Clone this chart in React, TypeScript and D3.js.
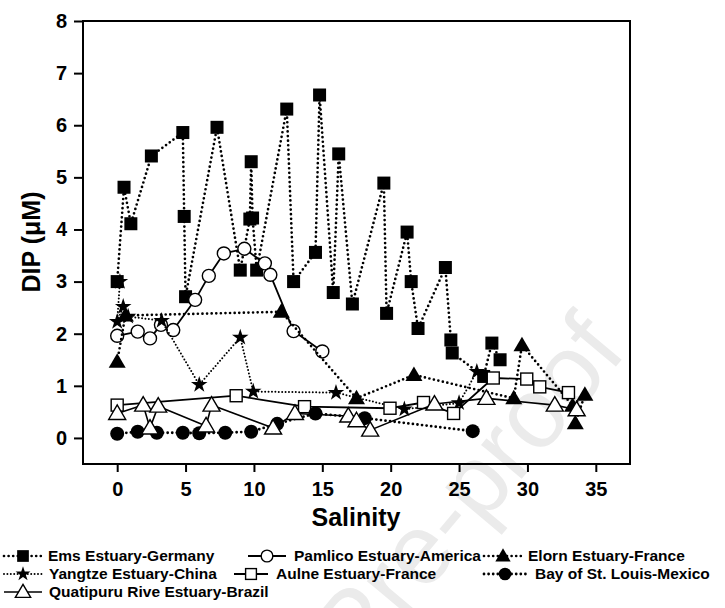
import React, { useEffect, useRef } from 'react';
import * as d3 from 'd3';

const W = 725, H = 608;
const FONT = '"Liberation Sans", Arial, Helvetica, sans-serif';

// salinity / DIP pairs, listed in the order the lines join them
const emsSal = [0, 0.5, 1, 2.5, 4.8, 4.9, 5, 7.3, 9, 9.7, 9.8, 9.9, 10.2, 12.4, 12.9, 14.5, 14.8, 15.8, 16.2, 17.2, 19.5, 19.7, 21.2, 21.5, 22, 24, 24.4, 24.5, 26.8, 27.4, 28];
const emsDip = [3.0, 4.81, 4.11, 5.41, 5.86, 4.25, 2.71, 5.96, 3.22, 4.2, 5.3, 4.22, 3.22, 6.31, 3.0, 3.56, 6.58, 2.79, 5.45, 2.57, 4.89, 2.39, 3.95, 3.0, 2.1, 3.27, 1.88, 1.63, 1.18, 1.82, 1.5];

const pamSal = [0, 1.5, 2.4, 3.2, 4.1, 5.7, 6.7, 7.8, 9.3, 10.8, 11.2, 12.9, 15.0];
const pamDip = [1.96, 2.04, 1.91, 2.17, 2.07, 2.65, 3.11, 3.54, 3.63, 3.35, 3.13, 2.05, 1.66];

const elornSal = [0, 0.6, 12.0, 17.5, 21.7, 29.0, 29.6, 33.3, 34.2, 33.5];
const elornDip = [1.46, 2.35, 2.42, 0.76, 1.21, 0.76, 1.78, 0.62, 0.83, 0.28];

const yangSal = [0.2, 0, 0.44, 0.8, 3.25, 6.0, 9.0, 9.95, 16.0, 21.0, 25.0, 26.3];
const yangDip = [3.0, 2.23, 2.52, 2.33, 2.25, 1.02, 1.93, 0.89, 0.87, 0.55, 0.67, 1.27];

const aulneSal = [0, 8.7, 13.7, 19.95, 22.4, 24.6, 27.5, 29.95, 30.9, 33.0];
const aulneDip = [0.63, 0.81, 0.6, 0.57, 0.68, 0.47, 1.15, 1.13, 0.98, 0.87];

const baySal = [0, 1.5, 2.9, 4.8, 6.0, 7.9, 9.8, 11.7, 14.5, 18.1, 26.0];
const bayDip = [0.08, 0.12, 0.1, 0.1, 0.09, 0.1, 0.12, 0.27, 0.47, 0.38, 0.13];

const quaSal = [0, 1.9, 2.4, 3.0, 6.5, 6.9, 11.4, 13.0, 16.9, 17.5, 18.5, 23.2, 27.0, 32.0, 33.6];
const quaDip = [0.47, 0.63, 0.19, 0.61, 0.23, 0.63, 0.19, 0.47, 0.42, 0.33, 0.15, 0.65, 0.76, 0.63, 0.54];

const xTicks = [0, 5, 10, 15, 20, 25, 30, 35];
const yTicks = [0, 1, 2, 3, 4, 5, 6, 7, 8];

type Style = { marker: string; dash: string | null; width: number };

const series: { name: string; sal: number[]; dip: number[]; style: Style }[] = [
  { name: 'Ems Estuary-Germany', sal: emsSal, dip: emsDip, style: { marker: 'square', dash: '0 4.6', width: 2.7 } },
  { name: 'Pamlico Estuary-America', sal: pamSal, dip: pamDip, style: { marker: 'circleOpen', dash: null, width: 1.8 } },
  { name: 'Elorn Estuary-France', sal: elornSal, dip: elornDip, style: { marker: 'triangle', dash: '0 4.6', width: 2.7 } },
  { name: 'Yangtze Estuary-China', sal: yangSal, dip: yangDip, style: { marker: 'star', dash: '0 3.4', width: 2 } },
  { name: 'Aulne Estuary-France', sal: aulneSal, dip: aulneDip, style: { marker: 'squareOpen', dash: null, width: 1.8 } },
  { name: 'Bay of St. Louis-Mexico', sal: baySal, dip: bayDip, style: { marker: 'circle', dash: '0 4.6', width: 2.8 } },
  { name: 'Quatipuru Rive Estuary-Brazil', sal: quaSal, dip: quaDip, style: { marker: 'triangleOpen', dash: null, width: 1.6 } },
];

// legend slots: [row, symbol left, symbol right, text x]
const legendSlots = [
  [0, 4, 42, 48], [0, 248, 286, 294], [0, 484, 522, 528],
  [1, 4, 42, 49], [1, 234, 268, 276], [1, 484, 526, 535],
  [2, 4, 42, 49],
];
const legendRowY = [561, 579, 597];

function drawMarker(g: any, kind: string, cx: number, cy: number, k = 1) {
  const open = kind.endsWith('Open');
  const fill = open ? '#fff' : '#000';
  const stroke = '#000';
  if (kind.startsWith('square')) {
    const s = (open ? 12 : 13) * k;
    g.append('rect').attr('x', cx - s / 2).attr('y', cy - s / 2).attr('width', s).attr('height', s)
      .attr('fill', fill).attr('stroke', stroke).attr('stroke-width', open ? 1.4 : 0);
  } else if (kind.startsWith('circle')) {
    g.append('circle').attr('cx', cx).attr('cy', cy).attr('r', (open ? 6.5 : 7) * k)
      .attr('fill', fill).attr('stroke', stroke).attr('stroke-width', open ? 1.4 : 0);
  } else if (kind.startsWith('triangle')) {
    const a = 8.5 * k, b = 6 * k;
    g.append('path').attr('d', `M${cx},${cy - a}L${cx + a},${cy + b}L${cx - a},${cy + b}Z`)
      .attr('fill', fill).attr('stroke', stroke).attr('stroke-width', open ? 1.4 : 0);
  } else {
    g.append('path').attr('d', d3.symbol(d3.symbolStar, 85 * k * k)())
      .attr('transform', `translate(${cx},${cy})`).attr('fill', '#000');
  }
}

export default function App() {
  const ref = useRef<SVGSVGElement>(null);

  useEffect(() => {
    const svg = d3.select(ref.current);
    svg.selectAll('*').remove();

    const x = d3.scaleLinear().domain([-2.5, 37.5]).range([83, 630]);
    const y = d3.scaleLinear().domain([-0.5, 8]).range([464, 21]);

    svg.append('rect').attr('width', W).attr('height', H).attr('fill', '#fff');

    // faint watermark
    svg.append('text')
      .attr('transform', 'translate(628,352) rotate(-50)')
      .attr('text-anchor', 'end')
      .attr('font-family', FONT).attr('font-size', 100)
      .attr('fill', '#ebebeb')
      .text('Journal Pre-proof');

    // axes
    const gx = svg.append('g').attr('transform', 'translate(0,464)');
    gx.call(d3.axisBottom(x).tickValues(d3.range(2.5, 35, 5)).tickSize(4).tickFormat(() => ''));
    gx.call(d3.axisBottom(x).tickValues(xTicks).tickSize(8).tickPadding(10));
    const gy = svg.append('g').attr('transform', 'translate(83,0)');
    gy.call(d3.axisLeft(y).tickValues(d3.range(-0.5, 8, 1)).tickSize(5).tickFormat(() => ''));
    gy.call(d3.axisLeft(y).tickValues(yTicks).tickSize(9).tickPadding(7));
    [gx, gy].forEach(g => {
      g.selectAll('.domain').remove();
      g.selectAll('line').attr('stroke', '#000').attr('stroke-width', 2);
      g.selectAll('text').attr('font-family', FONT).attr('font-size', 20)
        .attr('font-weight', 'bold').attr('fill', '#000');
    });

    svg.append('rect').attr('x', 83).attr('y', 21).attr('width', 630 - 83).attr('height', 464 - 21)
      .attr('fill', 'none').attr('stroke', '#000').attr('stroke-width', 2);

    svg.append('text').attr('x', 356).attr('y', 526).attr('text-anchor', 'middle')
      .attr('font-family', FONT).attr('font-size', 25).attr('font-weight', 'bold').text('Salinity');
    svg.append('text').attr('transform', 'translate(40,242) rotate(-90)').attr('text-anchor', 'middle')
      .attr('font-family', FONT).attr('font-size', 25).attr('font-weight', 'bold').text('DIP (\u03bcM)');

    // series: line then markers
    const line = d3.line<[number, number]>().x(d => x(d[0])).y(d => y(d[1]));
    series.forEach(s => {
      const pts: [number, number][] = s.sal.map((v, i) => [v, s.dip[i]]);
      const g = svg.append('g');
      g.append('path').attr('d', line(pts)).attr('fill', 'none').attr('stroke', '#000')
        .attr('stroke-width', s.style.width)
        .attr('stroke-dasharray', s.style.dash)
        .attr('stroke-linecap', s.style.dash ? 'round' : 'butt')
        .attr('stroke-linejoin', 'round');
      pts.forEach(p => drawMarker(g, s.style.marker, x(p[0]), y(p[1])));
    });

    // legend
    series.forEach((s, i) => {
      const [row, x0, x1, tx] = legendSlots[i];
      const cy = legendRowY[row] - 5;
      const g = svg.append('g');
      g.append('line').attr('x1', x0).attr('x2', x1).attr('y1', cy).attr('y2', cy)
        .attr('stroke', '#000').attr('stroke-width', s.style.width)
        .attr('stroke-dasharray', s.style.dash)
        .attr('stroke-linecap', s.style.dash ? 'round' : 'butt');
      drawMarker(g, s.style.marker, (x0 + x1) / 2, cy, 0.9);
      g.append('text').attr('x', tx).attr('y', legendRowY[row])
        .attr('font-family', FONT).attr('font-size', 15.5).attr('font-weight', 'bold').text(s.name);
    });
  }, []);

  return <svg ref={ref} width={W} height={H} style={{ position: 'absolute', left: 0, top: 0 }} />;
}
